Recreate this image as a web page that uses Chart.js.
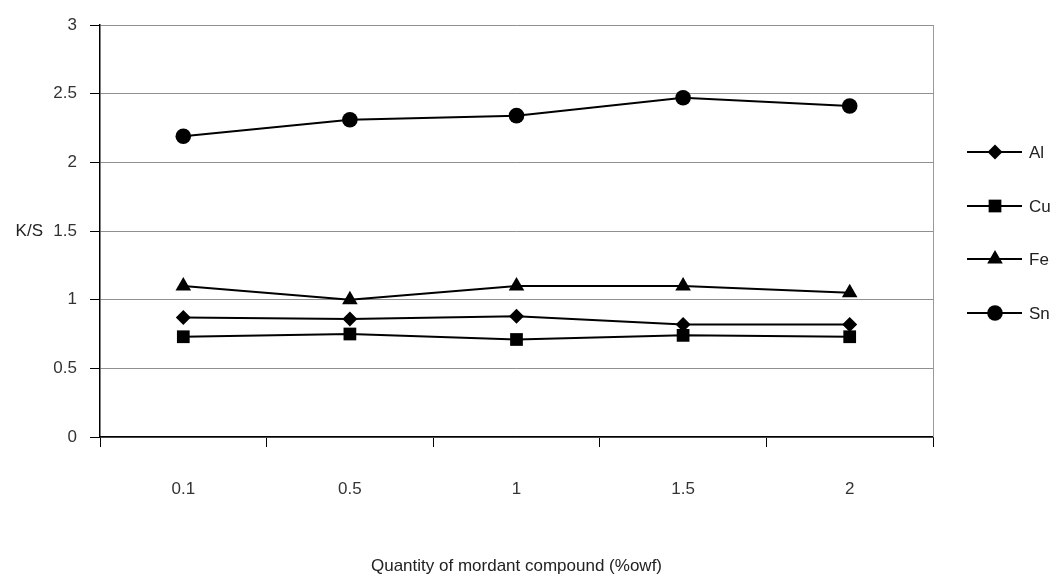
<!DOCTYPE html>
<html>
<head>
<meta charset="utf-8">
<script src="https://cdn.jsdelivr.net/npm/chart.js@4.4.1/dist/chart.umd.min.js"></script>
<style>
  html, body { margin: 0; padding: 0; background: #fff; }
  #wrap { width: 1060px; height: 581px; position: relative; }
</style>
</head>
<body>
<div id="wrap"><canvas id="c" width="1060" height="581"></canvas></div>
<script>
const categories = ["0.1", "0.5", "1", "1.5", "2"];
const alValues = [0.87, 0.86, 0.88, 0.82, 0.82];
const cuValues = [0.73, 0.75, 0.71, 0.74, 0.73];
const feValues = [1.10, 1.00, 1.10, 1.10, 1.05];
const snValues = [2.19, 2.31, 2.34, 2.47, 2.41];
const seriesNames = ["Al", "Cu", "Fe", "Sn"];
const yTitle = "K/S";
const xTitle = "Quantity of mordant compound (%owf)";

const FONT = "'Liberation Sans', Arial, sans-serif";
const FS = 17;

function ds(label, data, style, radius) {
  return {
    label, data,
    borderColor: '#000', backgroundColor: '#000',
    borderWidth: 2,
    pointStyle: style, pointRadius: radius, pointHoverRadius: radius,
    pointBackgroundColor: '#000', pointBorderColor: '#000', pointBorderWidth: 0,
    tension: 0, fill: false
  };
}

const extras = {
  id: 'extras',
  afterDraw(chart) {
    const ctx = chart.ctx;
    const a = chart.chartArea;
    ctx.save();
    ctx.strokeStyle = '#9a9a9a';
    ctx.lineWidth = 1;
    ctx.beginPath();
    ctx.moveTo(a.right + 0.5, a.top);
    ctx.lineTo(a.right + 0.5, a.bottom);
    ctx.stroke();
    const ys = chart.scales.y;
    ctx.fillStyle = '#222';
    ctx.font = FS + 'px ' + FONT;
    ctx.textAlign = 'right';
    ctx.textBaseline = 'middle';
    ctx.fillText(yTitle, 43, ys.getPixelForValue(1.5));
    ctx.textAlign = 'center';
    ctx.fillText(xTitle, (a.left + a.right) / 2, 566);
    const lx0 = 967, lx1 = 1022, mx = 995;
    const ly = [152, 206, 259, 313];
    chart.data.datasets.forEach((d, i) => {
      const y = ly[i];
      ctx.strokeStyle = '#000';
      ctx.lineWidth = 2;
      ctx.beginPath();
      ctx.moveTo(lx0, y);
      ctx.lineTo(lx1, y);
      ctx.stroke();
      ctx.fillStyle = '#000';
      Chart.helpers.drawPoint(ctx, { pointStyle: d.pointStyle, radius: d.pointRadius, borderWidth: 0 }, mx, y);
      ctx.fillStyle = '#222';
      ctx.textAlign = 'left';
      ctx.fillText(d.label, 1029, y + 1);
    });
    ctx.restore();
  }
};

new Chart(document.getElementById('c'), {
  type: 'line',
  data: {
    labels: categories,
    datasets: [
      ds(seriesNames[0], alValues, 'rectRot', 7.5),
      ds(seriesNames[1], cuValues, 'rect', 9),
      ds(seriesNames[2], feValues, 'triangle', 9),
      ds(seriesNames[3], snValues, 'circle', 7.8)
    ]
  },
  options: {
    responsive: false,
    animation: false,
    devicePixelRatio: 1,
    layout: { padding: { left: 0, right: 127, top: 25, bottom: 0 } },
    plugins: { legend: { display: false }, tooltip: { enabled: false } },
    scales: {
      x: {
        type: 'category',
        offset: true,
        afterFit(s) { s.height = 144; },
        grid: { offset: true, drawOnChartArea: false, drawTicks: true, tickLength: 10, color: '#000', tickColor: '#000' },
        border: { display: true, color: '#000', width: 1.5 },
        ticks: { color: '#333', font: { family: FONT, size: FS }, padding: 32, maxRotation: 0 }
      },
      y: {
        min: 0, max: 3,
        afterFit(s) { s.width = 100; },
        grid: { color: '#909090', lineWidth: 1, drawTicks: true, tickLength: 10, tickColor: '#000' },
        border: { display: true, color: '#000', width: 1.5 },
        ticks: { stepSize: 0.5, color: '#333', font: { family: FONT, size: FS }, padding: 13,
                 callback: v => String(v) }
      }
    }
  },
  plugins: [extras]
});
</script>
</body>
</html>
